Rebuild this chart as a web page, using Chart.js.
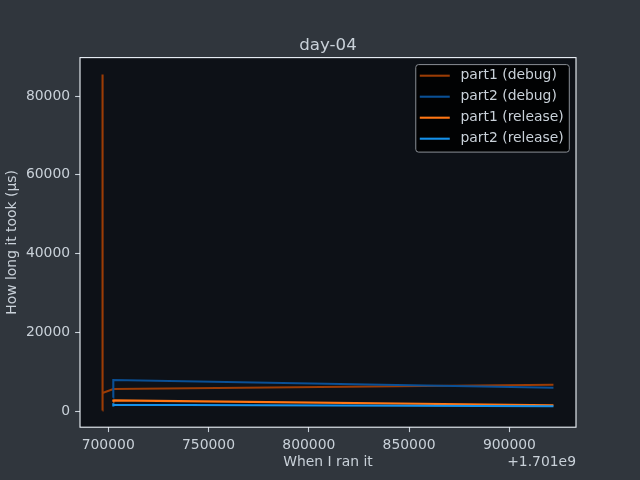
<!DOCTYPE html>
<html><head><meta charset="utf-8">
<script src="https://cdn.jsdelivr.net/npm/chart.js@4/dist/chart.umd.min.js"></script>
<style>html,body{margin:0;padding:0;background:#30363d;}canvas{display:block;}</style>
</head><body>
<canvas id="c" width="640" height="480"></canvas>
<script>
// ---- data (x = seconds since 1.701e9) ----
const TITLE = 'day-04';
const X_LABEL = 'When I ran it';
const Y_LABEL = 'How long it took (µs)';
const X_OFFSET_LABEL = '+1.701e9';
const seriesLabels = ['part1 (debug)', 'part2 (debug)', 'part1 (release)', 'part2 (release)'];
const seriesColors = ['#9b3c05', '#0a5096', '#ff7614', '#1491eb'];
const part1DebugX = [697181, 697181, 697190, 702542, 921961];
const part1DebugY = [153, 85486, 4600, 5590, 6680];
const part2DebugX = [702542, 702545, 921961];
const part2DebugY = [3380, 7870, 5920];
const part1ReleaseX = [702542, 702545, 702560, 921961];
const part1ReleaseY = [2350, 2950, 2700, 1450];
const part2ReleaseX = [702542, 702545, 702560, 921961];
const part2ReleaseY = [1950, 1150, 1600, 1190];
const xTicks = [700000, 750000, 800000, 850000, 900000];
const yTicks = [0, 20000, 40000, 60000, 80000];

const seriesX = [part1DebugX, part2DebugX, part1ReleaseX, part2ReleaseX];
const seriesY = [part1DebugY, part2DebugY, part1ReleaseY, part2ReleaseY];

function paddedRange(arrs) {
  const all = [].concat(...arrs);
  const lo = Math.min(...all), hi = Math.max(...all);
  const m = (hi - lo) * 0.05;
  return [lo - m, hi + m];
}
const [xMin, xMax] = paddedRange(seriesX);
const [yMin, yMax] = paddedRange(seriesY);

const TEXT = '#c9d1d9';
const FS = 13.9;
Chart.defaults.font.family = '"DejaVu Sans", sans-serif';
Chart.defaults.font.size = FS;
Chart.defaults.color = TEXT;

const decor = {
  id: 'decor',
  beforeDraw(chart) {
    const {ctx, chartArea: a} = chart;
    ctx.save();
    ctx.fillStyle = '#30363d';
    ctx.fillRect(0, 0, chart.width, chart.height);
    ctx.fillStyle = '#0d1117';
    ctx.fillRect(a.left, a.top, a.right - a.left, a.bottom - a.top);
    ctx.restore();
  },
  afterDraw(chart) {
    const {ctx, chartArea: a} = chart;
    ctx.save();
    ctx.strokeStyle = '#f0f6fc';
    ctx.lineWidth = 1.1;
    ctx.strokeRect(a.left, a.top, a.right - a.left, a.bottom - a.top);
    ctx.font = FS + 'px "DejaVu Sans"';
    ctx.fillStyle = TEXT;
    ctx.textAlign = 'right';
    ctx.textBaseline = 'middle';
    ctx.fillText(X_OFFSET_LABEL, a.right, 462);
    // legend
    const ds = chart.data.datasets;
    let maxW = 0;
    ds.forEach(d => { maxW = Math.max(maxW, ctx.measureText(d.label).width); });
    const right = a.right - 6.7;
    const w = 4 + 30 + 10.7 + maxW + 5.6;
    const left = right - w;
    const top = a.top + 7;
    const h = 87.5;
    ctx.beginPath();
    if (ctx.roundRect) ctx.roundRect(left, top, w, h, 2.8); else ctx.rect(left, top, w, h);
    ctx.fillStyle = 'rgba(0,0,0,0.85)';
    ctx.fill();
    ctx.strokeStyle = '#8a8f96';
    ctx.lineWidth = 1;
    ctx.stroke();
    ctx.textAlign = 'left';
    ds.forEach((d, i) => {
      const cy = top + 11.1 + 21 * i;
      ctx.strokeStyle = d.borderColor;
      ctx.lineWidth = 2.1;
      ctx.beginPath();
      ctx.moveTo(left + 4, cy);
      ctx.lineTo(left + 34, cy);
      ctx.stroke();
      ctx.fillStyle = TEXT;
      ctx.fillText(d.label, left + 44.7, cy);
    });
    ctx.restore();
  }
};

const datasets = seriesLabels.map((lab, i) => ({
  label: lab,
  data: seriesX[i].map((x, j) => ({x: x, y: seriesY[i][j]})),
  borderColor: seriesColors[i],
  backgroundColor: seriesColors[i],
  borderWidth: 2.1,
  pointRadius: 0,
  tension: 0,
  fill: false,
  order: seriesLabels.length - i
}));

new Chart(document.getElementById('c'), {
  type: 'line',
  data: {datasets},
  options: {
    responsive: false,
    animation: false,
    devicePixelRatio: 1,
    layout: {padding: {left: 0, right: 64, top: 0, bottom: 0}},
    plugins: {
      legend: {display: false},
      tooltip: {enabled: false},
      title: {
        display: true, text: TITLE, color: TEXT, fullSize: false,
        font: {size: 16.67, weight: 'normal', family: '"DejaVu Sans"', lineHeight: 1.2},
        padding: {top: 35.5, bottom: 2.1}
      }
    },
    scales: {
      x: {
        type: 'linear', min: xMin, max: xMax,
        afterBuildTicks: s => { s.ticks = xTicks.map(v => ({value: v})); },
        afterFit: s => { s.height = 52.8; },
        ticks: {color: TEXT, padding: 4.5, maxRotation: 0, autoSkip: false,
                callback: v => String(v), font: {size: FS}},
        grid: {display: true, drawOnChartArea: false, drawTicks: true, tickLength: 4.9,
               tickWidth: 1.1, tickColor: TEXT},
        border: {display: false},
        title: {display: true, text: X_LABEL, color: TEXT, font: {size: FS, lineHeight: 1.2},
                padding: {top: 0, bottom: 9}}
      },
      y: {
        type: 'linear', min: yMin, max: yMax,
        afterBuildTicks: s => { s.ticks = yTicks.map(v => ({value: v})); },
        afterFit: s => { s.width = 80; },
        ticks: {color: TEXT, padding: 5, autoSkip: false,
                callback: v => String(v), font: {size: FS}},
        grid: {display: true, drawOnChartArea: false, drawTicks: true, tickLength: 4.9,
               tickWidth: 1.1, tickColor: TEXT},
        border: {display: false},
        title: {display: true, text: Y_LABEL, color: TEXT, font: {size: FS, lineHeight: 1.2},
                padding: {top: 4, bottom: 0}}
      }
    }
  },
  plugins: [decor]
});
</script>
</body></html>
